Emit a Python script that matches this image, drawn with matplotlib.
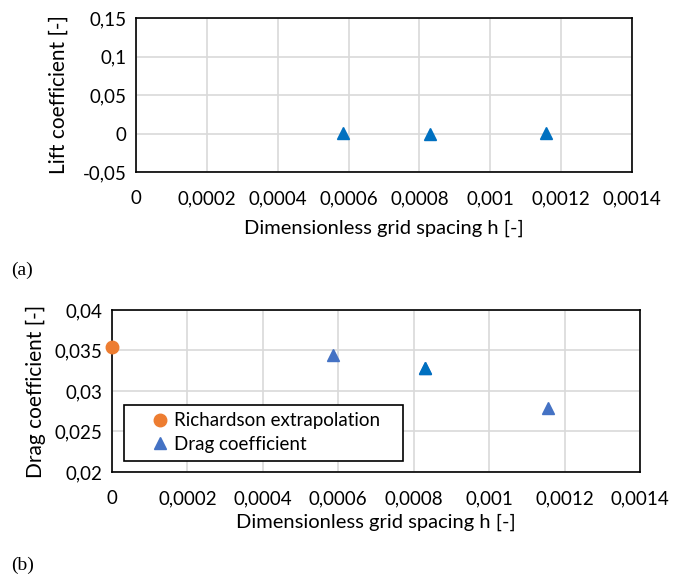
import matplotlib.pyplot as plt
from matplotlib.ticker import MultipleLocator, FuncFormatter

# grid spacing of the three meshes
h = [0.000585, 0.00083, 0.001156]

# lift coefficient, top panel (all about zero)
cl = [0.0003, -0.0008, 0.0003]

# drag coefficient, bottom panel
cd = [0.03447, 0.03278, 0.0279]
cd_colors = ["#4472C4", "#0070C0", "#4472C4"]
h_rich = [0.0]
cd_rich = [0.03545]


def comma(v, pos):
    s = "%g" % v
    if s == "-0":
        s = "0"
    return s.replace(".", ",")


def style_axes(ax, ystep):
    ax.set_xlim(0, 0.0014)
    ax.xaxis.set_major_locator(MultipleLocator(0.0002))
    ax.yaxis.set_major_locator(MultipleLocator(ystep))
    ax.xaxis.set_major_formatter(FuncFormatter(comma))
    ax.yaxis.set_major_formatter(FuncFormatter(comma))
    ax.grid(True, color="#D9D9D9", linewidth=1.2)
    ax.set_axisbelow(True)
    ax.tick_params(length=0, labelsize=13.5, pad=7)
    for sp in ax.spines.values():
        sp.set_color("black")
        sp.set_linewidth(1.2)


plt.rcParams["font.family"] = ["Lato", "DejaVu Sans"]

fig = plt.figure(figsize=(6.82, 5.76), dpi=100)

# (a) lift
ax1 = fig.add_axes([0.1994, 0.7014, 0.7273, 0.2673])
ax1.plot(h, cl, linestyle="none", marker="^", color="#0070C0", markersize=9)
ax1.set_ylim(-0.05, 0.15)
style_axes(ax1, 0.05)
ax1.xaxis.set_tick_params(pad=13)
ax1.set_xlabel("Dimensionless grid spacing h [-]", fontsize=14.5, labelpad=9)
ax1.set_ylabel("Lift coefficient [-]", fontsize=15, labelpad=10)

# (b) drag
ax2 = fig.add_axes([0.1642, 0.1806, 0.7742, 0.2812])
ax2.plot(h_rich, cd_rich, linestyle="none", marker="o", color="#ED7D31",
         markersize=9, label="Richardson extrapolation", clip_on=False, zorder=5)
ax2.plot(h, cd, linestyle="none", marker="^", color=cd_colors[0],
         markersize=9, label="Drag coefficient")
# the middle point is a slightly darker blue in the original
ax2.plot(h[1], cd[1], linestyle="none", marker="^", color=cd_colors[1],
         markersize=9)
ax2.set_ylim(0.02, 0.04)
style_axes(ax2, 0.005)
ax2.xaxis.set_tick_params(pad=13)
ax2.set_xlabel("Dimensionless grid spacing h [-]", fontsize=14.5, labelpad=5)
ax2.set_ylabel("Drag coefficient [-]", fontsize=15, labelpad=6)
leg = ax2.legend(loc="upper left", bbox_to_anchor=(0.0227, 0.0988, 0.528, 0.315),
                 mode="expand", fancybox=False, edgecolor="black", fontsize=13.5,
                 handletextpad=-0.75, handlelength=3.0, borderaxespad=0,
                 labelspacing=0.35, borderpad=0.4, framealpha=1)
leg.get_frame().set_linewidth(1.2)

fig.text(0.017, 0.531, "(a)", fontsize=14, family="Liberation Serif", va="center")
fig.text(0.017, 0.018, "(b)", fontsize=14, family="Liberation Serif", va="center")

fig.savefig("out.png", dpi=100)
